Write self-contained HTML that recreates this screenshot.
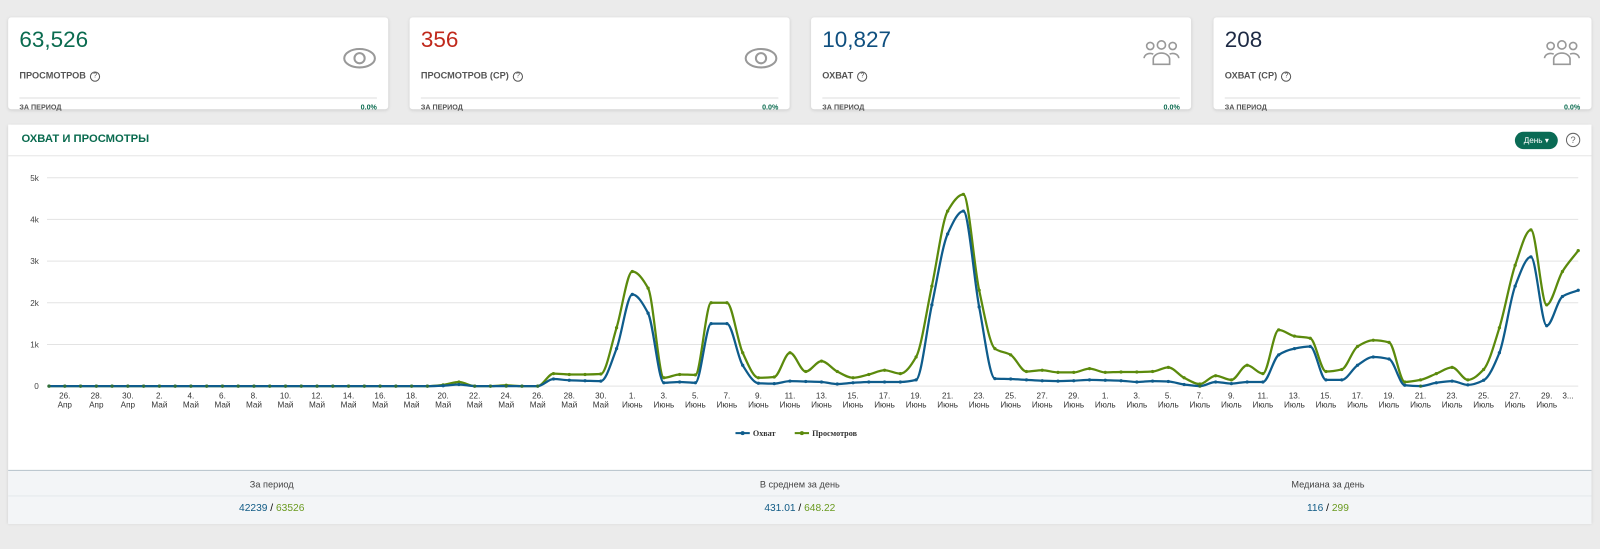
<!DOCTYPE html>
<html><head><meta charset="utf-8">
<style>
html,body{margin:0;width:1600px;height:537px;overflow:hidden;background:#ebebeb}
#wrap{position:absolute;left:0;top:0;width:1600px;height:537px;transform:scale(1.0215);transform-origin:0 0;font-family:"Liberation Sans","Noto Sans CJK SC",sans-serif}
.card{position:absolute;top:17px;width:372px;height:90px;background:#fff;border-radius:3px;box-shadow:0 1px 3px rgba(0,0,0,.12)}
.card .num{position:absolute;left:11px;top:9px;font-size:22px}
.card .lbl{position:absolute;left:11px;top:52px;font-size:9px;font-weight:bold;color:#555}
.card .lbl .q{display:inline-block;width:8px;height:8px;border:1px solid #555;border-radius:50%;font-size:7px;text-align:center;line-height:8px;margin-left:4px;vertical-align:middle;font-weight:normal}
.card .line{position:absolute;left:11px;right:11px;top:78px;border-top:2px solid #eee}
.card .per{position:absolute;left:11px;top:85px;font-size:7px;font-weight:bold;color:#555}
.card .pct{position:absolute;right:11px;top:85px;font-size:7px;font-weight:bold;color:#0a6b4f}
.card svg{position:absolute;right:11px;top:28px}
#panel{position:absolute;left:8px;top:122px;width:1550px;height:390px;background:#fff;box-shadow:0 1px 3px rgba(0,0,0,.12)}
</style></head><body>
<div id="wrap">
<div class="card" style="left:8px">
 <div class="num" style="color:#0a6b4f">63,526</div>
 <div class="lbl">ПРОСМОТРОВ<span class="q">?</span></div>
 <svg width="34" height="24"><ellipse cx="17" cy="12" rx="15" ry="9" fill="none" stroke="#999" stroke-width="2"/><circle cx="17" cy="12" r="5" fill="none" stroke="#999" stroke-width="2"/></svg>
 <div class="line"></div><div class="per">ЗА ПЕРИОД</div><div class="pct">0.0%</div>
</div>
<div class="card" style="left:401px">
 <div class="num" style="color:#c0281b">356</div>
 <div class="lbl">ПРОСМОТРОВ (СР)<span class="q">?</span></div>
 <svg width="34" height="24"><ellipse cx="17" cy="12" rx="15" ry="9" fill="none" stroke="#999" stroke-width="2"/><circle cx="17" cy="12" r="5" fill="none" stroke="#999" stroke-width="2"/></svg>
 <div class="line"></div><div class="per">ЗА ПЕРИОД</div><div class="pct">0.0%</div>
</div>
<div class="card" style="left:794px">
 <div class="num" style="color:#0f4f7f">10,827</div>
 <div class="lbl">ОХВАТ<span class="q">?</span></div>
 <svg width="36" height="28" style="top:22px"><g fill="none" stroke="#999" stroke-width="1.6"><circle cx="7" cy="6" r="3.5"/><circle cx="18" cy="5" r="4"/><circle cx="29" cy="6" r="3.5"/><path d="M10 24v-5a8 6 0 0 1 16 0v5z"/><path d="M1 18a6 5 0 0 1 9-4"/><path d="M35 18a6 5 0 0 0-9-4"/></g></svg>
 <div class="line"></div><div class="per">ЗА ПЕРИОД</div><div class="pct">0.0%</div>
</div>
<div class="card" style="left:1188px;width:370px">
 <div class="num" style="color:#1d2a44">208</div>
 <div class="lbl">ОХВАТ (СР)<span class="q">?</span></div>
 <svg width="36" height="28" style="top:22px"><g fill="none" stroke="#999" stroke-width="1.6"><circle cx="7" cy="6" r="3.5"/><circle cx="18" cy="5" r="4"/><circle cx="29" cy="6" r="3.5"/><path d="M10 24v-5a8 6 0 0 1 16 0v5z"/><path d="M1 18a6 5 0 0 1 9-4"/><path d="M35 18a6 5 0 0 0-9-4"/></g></svg>
 <div class="line"></div><div class="per">ЗА ПЕРИОД</div><div class="pct">0.0%</div>
</div>

<div id="panel">
 <div style="position:absolute;left:13px;top:8px;font-size:11px;font-weight:bold;color:#0a6b4f">ОХВАТ И ПРОСМОТРЫ</div>
 <div style="position:absolute;left:1475px;top:7px;width:42px;height:17px;border-radius:9px;background:#0a6b55;color:#fff;font-size:8px;line-height:17px;text-align:center">День ▾</div>
 <div style="position:absolute;left:1525px;top:8px;width:12px;height:12px;border:1px solid #666;border-radius:50%;font-size:9px;text-align:center;line-height:12px;color:#666">?</div>
 <div style="position:absolute;left:0;right:0;top:30px;border-top:1px solid #e6e6e6"></div>
 <div style="position:absolute;left:0;right:0;top:338px;height:52px;background:#f3f5f7;border-top:1px solid #b8c4cc">
  <div style="position:absolute;left:0;right:0;top:24px;border-top:1px solid #e4e8eb"></div>
  <div style="position:absolute;left:158px;width:200px;top:8px;text-align:center;font-size:9px;color:#444">За период</div>
  <div style="position:absolute;left:158px;width:200px;top:31px;text-align:center;font-size:10px"><span style="color:#0f5a85">42239</span> / <span style="color:#6a9a1f">63526</span></div>
  <div style="position:absolute;left:675px;width:200px;top:8px;text-align:center;font-size:9px;color:#444">В среднем за день</div>
  <div style="position:absolute;left:675px;width:200px;top:31px;text-align:center;font-size:10px"><span style="color:#0f5a85">431.01</span> / <span style="color:#6a9a1f">648.22</span></div>
  <div style="position:absolute;left:1192px;width:200px;top:8px;text-align:center;font-size:9px;color:#444">Медиана за день</div>
  <div style="position:absolute;left:1192px;width:200px;top:31px;text-align:center;font-size:10px"><span style="color:#0f5a85">116</span> / <span style="color:#6a9a1f">299</span></div>
 </div>
</div>
<svg id="chart" width="1600" height="537" style="position:absolute;left:0;top:0"></svg>
</div>
<script>
const reach=[0,0,0,0,0,0,0,0,0,0,0,0,0,0,0,0,0,0,0,0,0,0,0,0,0,10,40,0,0,0,0,0,170,140,130,120,900,2200,1750,80,100,80,1500,1500,500,70,60,120,110,100,50,80,100,100,100,150,1950,3650,4200,1900,180,170,150,130,120,130,150,140,130,100,120,110,40,0,100,60,100,100,750,900,950,150,150,500,700,650,20,0,80,120,30,140,800,2400,3100,1450,2150,2300];
const views=[0,0,0,0,0,0,0,0,0,0,0,0,0,0,0,0,0,0,0,0,0,0,0,0,0,30,100,0,0,20,0,0,300,280,280,290,1400,2750,2350,200,280,270,2000,2000,800,200,220,800,350,600,350,200,280,380,300,700,2400,4200,4600,2300,900,750,350,380,330,330,420,330,340,340,350,450,200,50,250,150,500,300,1350,1200,1150,350,400,950,1100,1050,100,150,300,450,150,400,1400,2900,3750,1950,2750,3250];
const yTicks=[0,1000,2000,3000,4000,5000];
const yTickLabels=["0","1k","2k","3k","4k","5k"];
const monthNames=["Апр","Май","Июнь","Июль"];
const startDate=new Date(2023,3,25);
const svg=document.getElementById('chart');const NS='http://www.w3.org/2000/svg';
const X0=48,X1=1545,Y0=378,Y5=174;
const x=i=>X0+i*(X1-X0)/(views.length-1);
const y=v=>Y0-(v/5000)*(Y0-Y5);
function mk(t,a,p){const e=document.createElementNS(NS,t);for(const k in a)e.setAttribute(k,a[k]);(p||svg).appendChild(e);return e;}
yTicks.forEach((t,k)=>{
 const g=mk('line',{x1:46,x2:1545,y1:y(t),y2:y(t),stroke:'#e3e3e3','stroke-width':1});
 
 
 const l=mk('text',{x:38,y:y(t)+3,'text-anchor':'end','font-size':8,fill:'#444','font-family':'Liberation Sans'});l.textContent=yTickLabels[k];
 
 
});
for(let i=1;i<views.length;i+=2){
 const d=new Date(startDate);d.setDate(d.getDate()+i);
 const mi=d.getMonth()-3;
 const last=i>=views.length-2;
 const t=mk('text',{x:x(i),y:390,'text-anchor':'middle','font-size':8,fill:'#333','font-family':'Liberation Sans'});
 
 
 const a=mk('tspan',{x:last?x(i)-10:x(i)},t);a.textContent=last?'3...':d.getDate()+'.';
 const b=mk('tspan',{x:x(i),dy:9},t);b.textContent=last?'':monthNames[mi];
}
function path(arr){
 const n=arr.length,dx=x(1)-x(0);
 const d=[],m=[];
 for(let i=0;i<n-1;i++)d.push(arr[i+1]-arr[i]);
 for(let i=0;i<n;i++){
  if(i===0)m.push(d[0]);else if(i===n-1)m.push(d[n-2]);
  else if(d[i-1]*d[i]<=0)m.push(0);
  else m.push(2/(1/d[i-1]+1/d[i]));
 }
 let p='M'+x(0)+','+y(arr[0]);
 for(let i=0;i<n-1;i++){
  p+=' C'+(x(i)+dx/3)+','+y(arr[i]+m[i]/3)+' '+(x(i+1)-dx/3)+','+y(arr[i+1]-m[i+1]/3)+' '+x(i+1)+','+y(arr[i+1]);
 }
 return p;
}
[[views,'#5b8a0c','views'],[reach,'#0e5c8c','reach']].forEach(([arr,c,n])=>{
 const p=mk('path',{d:path(arr),fill:'none',stroke:c,'stroke-width':2.2});
 
 
 arr.forEach((v,i)=>{
  const d=mk('circle',{cx:x(i),cy:y(v),r:1.6,fill:v===0?'#2f6e3a':c});
  
  
 });
});
const lg=mk('g',{});


[['Охват','#0e5c8c',720],['Просмотров','#5b8a0c',778]].forEach(([t,c,lx])=>{
 const e=mk('g',{},lg);
 
 
 mk('line',{x1:lx,x2:lx+14,y1:424,y2:424,stroke:c,'stroke-width':2},e);
 mk('circle',{cx:lx+7,cy:424,r:2,fill:c},e);
 const tx=mk('text',{x:lx+17,y:427,'font-size':8,'font-weight':'bold',fill:'#333','font-family':'Liberation Serif'},e);tx.textContent=t;
});
</script>
</body></html>
